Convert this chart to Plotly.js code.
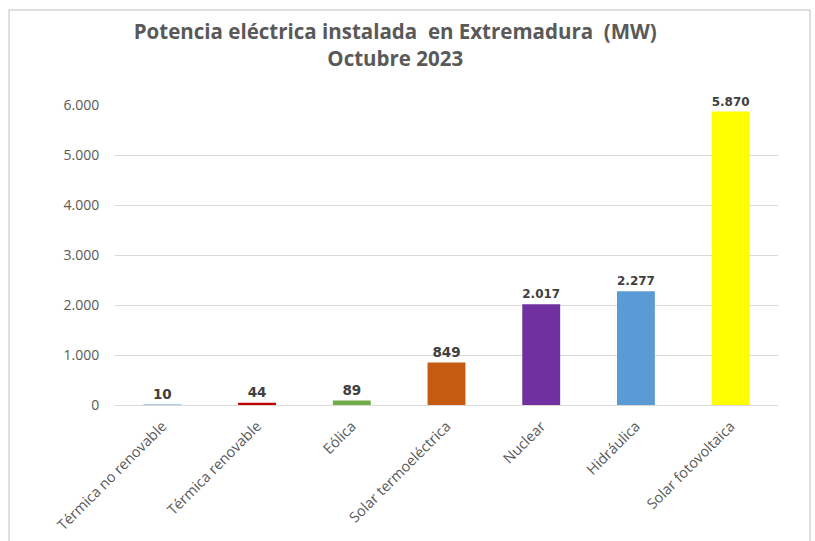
<!DOCTYPE html>
<html><head><meta charset="utf-8">
<script src="https://cdn.plot.ly/plotly-3.0.1.min.js"></script>
<style>html,body{margin:0;padding:0;background:#fff}#c{width:815px;height:541px}</style>
</head><body><div id="c"></div>
<script>
const categories = ["Térmica no renovable","Térmica renovable","Eólica","Solar termoeléctrica","Nuclear","Hidráulica","Solar fotovoltaica"];
const values = [10, 44, 89, 849, 2017, 2277, 5870];
const colors = ["#5B9BD5","#C00000","#70AD47","#C55A11","#7030A0","#5B9BD5","#FFFF00"];
const yTicks = [0,1000,2000,3000,4000,5000,6000];

const trace = {
  type:'bar', x:categories, y:values,
  marker:{color:colors},
  width:0.4,
  texttemplate:'<b>%{y:,d}</b>',
  textposition:'outside',
  cliponaxis:false,
  textfont:{family:'DejaVu Sans, sans-serif', size:13.5, color:'#404040'},
  hoverinfo:'none'
};
const layout = {
  width:815, height:541,
  margin:{l:115, r:37, t:105, b:136},
  separators:',.',
  paper_bgcolor:'#fff', plot_bgcolor:'#fff',
  title:{text:'<b>Potencia eléctrica instalada  en Extremadura  (MW)</b><br><b>Octubre 2023</b>',
    x:0.485, xanchor:'center', xref:'container', yref:'container', y:1-39/541, yanchor:'top',
    font:{family:'Open Sans, sans-serif', size:20.5, color:'#595959'}},
  xaxis:{tickangle:-45, tickfont:{family:'Open Sans, sans-serif', size:14.5, color:'#595959'},
    showline:true, linecolor:'#d9d9d9', ticks:'', showgrid:false, automargin:false, ticklabelstandoff:6},
  yaxis:{range:[0,6000], tickvals:yTicks, tickformat:',d',
    tickfont:{family:'Open Sans, sans-serif', size:14, color:'#595959'},
    gridcolor:'#d9d9d9', zeroline:false, showline:false, ticks:'outside', ticklen:12, tickcolor:'rgba(0,0,0,0)', automargin:false},
  shapes:[{type:'rect', xref:'paper', yref:'paper',
    x0:(9-115)/663, x1:(810-115)/663, y0:(405-545)/300, y1:(405-10)/300,
    line:{color:'#bfbfbf', width:1}, fillcolor:'rgba(0,0,0,0)', layer:'below'}],
  showlegend:false
};
Plotly.newPlot('c',[trace],layout,{staticPlot:true});
</script></body></html>
